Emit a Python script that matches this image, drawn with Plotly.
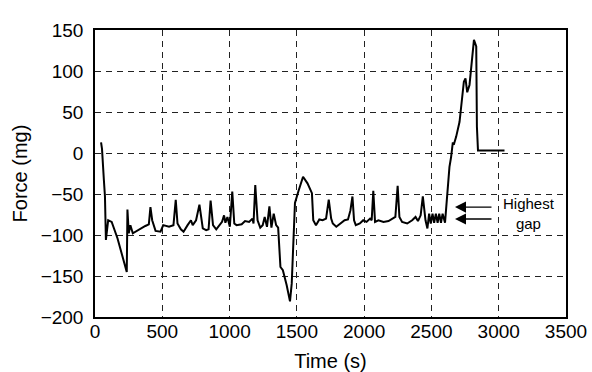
import plotly.graph_objects as go

time_s = [45, 52, 66, 74, 81, 98, 124, 149, 167, 236, 241, 251, 263, 281, 311, 337, 374, 400, 412, 425,
          450, 487, 507, 550, 583, 600, 613, 638, 658, 688, 713, 726, 751, 776, 801, 826, 844, 859, 877, 901,
          927, 944, 959, 969, 984, 1002, 1020, 1035, 1052, 1090, 1115, 1145, 1170, 1178, 1191, 1208, 1228, 1246,
          1261, 1278, 1296, 1311, 1328, 1346, 1361, 1378, 1396, 1424, 1449, 1462, 1471, 1486, 1511, 1546, 1579,
          1612, 1622, 1642, 1667, 1692, 1717, 1737, 1755, 1767, 1793, 1830, 1855, 1880, 1898, 1913, 1925, 1938,
          1968, 1993, 2018, 2044, 2056, 2068, 2081, 2106, 2144, 2181, 2206, 2232, 2249, 2262, 2282, 2320, 2357,
          2382, 2400, 2420, 2436, 2456, 2470, 2483, 2495, 2508, 2520, 2533, 2546, 2558, 2571, 2583, 2601, 2608,
          2616, 2621, 2634, 2646, 2659, 2666, 2684, 2709, 2721, 2741, 2753, 2766, 2783, 2801, 2816, 2833, 2838,
          2846, 3043]
force_mg = [13, 5, -33, -53, -106, -82, -84, -96, -104, -145, -69, -98, -88, -98, -95, -92, -89, -87, -66, -82,
            -95, -96, -88, -90, -88, -57, -86, -93, -96, -88, -82, -88, -82, -63, -92, -94, -93, -58, -88, -93,
            -88, -84, -76, -85, -78, -90, -47, -86, -88, -87, -83, -84, -80, -86, -39, -82, -91, -88,
            -78, -90, -65, -91, -74, -88, -91, -139, -143, -161, -181, -159, -122, -61, -47, -29, -37,
            -49, -82, -88, -81, -82, -80, -57, -80, -86, -90, -85, -82, -81, -70, -53, -82, -88,
            -86, -82, -84, -80, -82, -46, -84, -82, -84, -83, -80, -78, -40, -78, -84, -86, -82,
            -78, -83, -76, -53, -82, -92, -74, -86, -74, -85, -74, -85, -74, -85, -74, -85, -70,
            -45, -33, -17, -5, 13, 10, 20, 38, 57, 87, 91, 74, 83, 109, 138, 130, 32,
            3, 3]

x_ticks = [0, 500, 1000, 1500, 2000, 2500, 3000, 3500]
y_ticks = [-200, -150, -100, -50, 0, 50, 100, 150]

FONT = "Liberation Sans, Arial, Helvetica, sans-serif"

fig = go.Figure()
fig.add_trace(go.Scatter(x=time_s, y=force_mg, mode="lines",
                         line=dict(color="black", width=2), showlegend=False))

axis_common = dict(
    automargin=False,
    showline=True, linecolor="black", linewidth=1.5, mirror=True,
    showgrid=True, gridcolor="#222222", gridwidth=1, griddash="6px,5px",
    zeroline=False, ticks="", tickfont=dict(family=FONT, size=19, color="black"),
)

fig.update_xaxes(range=[0, 3500], tickvals=x_ticks, ticklabelstandoff=-4,
                 title=dict(text="Time (s)", font=dict(family=FONT, size=20, color="black"), standoff=19),
                 **axis_common)
fig.update_yaxes(range=[-200, 150], tickvals=y_ticks, ticklabelstandoff=6,
                 title=dict(text="Force (mg)", font=dict(family=FONT, size=20, color="black"), standoff=8),
                 **axis_common)

for yv in [-66, -80.5]:
    fig.add_annotation(x=2675, y=yv, ax=38, ay=0, axref="pixel", ayref="pixel",
                       showarrow=True, arrowhead=2, arrowsize=1.7, arrowwidth=1.3,
                       arrowcolor="black", text="")

fig.add_annotation(x=3225, y=-74, text="Highest<br>gap", showarrow=False,
                   font=dict(family=FONT, size=15, color="black"), align="center")

fig.update_layout(
    width=592, height=372,
    margin=dict(l=95, r=26, t=30, b=55),
    paper_bgcolor="white", plot_bgcolor="white",
    font=dict(family=FONT, color="black"),
)

fig.write_html("out.html")
